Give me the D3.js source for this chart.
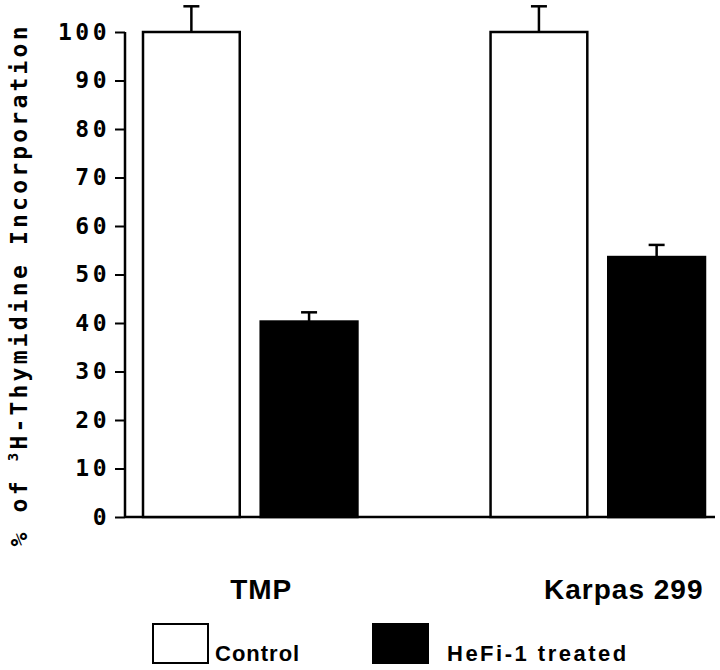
<!DOCTYPE html>
<html>
<head>
<meta charset="utf-8">
<script src="https://cdn.jsdelivr.net/npm/d3@7"></script>
<style>
  body { margin: 0; background: #fff; }
</style>
</head>
<body>
<div id="chart"></div>
<script>
// data
var groups = ["TMP", "Karpas 299"];
var series = ["Control", "HeFi-1 treated"];
var values = [[100, 40.3], [100, 53.6]];
var errors = [[5.3, 1.9], [5.3, 2.5]];
var yTicks = [0, 10, 20, 30, 40, 50, 60, 70, 80, 90, 100];
var fills = ["#fff", "#000"];

var svg = d3.select("#chart").append("svg")
    .attr("width", 720)
    .attr("height", 670)

// Scales
var y = d3.scaleLinear().domain([0, 100]).range([517, 32]);

var x0 = d3.scaleBand().domain(groups).range([143, 705]).paddingInner(0.383);
var x1 = d3.scaleBand().domain(series).range([0, x0.bandwidth()]).paddingInner(0.178);

// Axes
var yAxis = d3.axisLeft(y).tickValues(yTicks).tickSize(10).tickPadding(5);
var gy = svg.append("g").attr("class", "y axis")
    .attr("transform", "translate(125,0)")
    .call(yAxis);
gy.select(".domain").attr("stroke-width", 2.5).attr("d", "M0," + y(100) + "V" + y(0));
gy.selectAll(".tick line").attr("stroke-width", 2);
gy.selectAll("text")
    .attr("font-family", "'DejaVu Sans Mono', monospace")
    .attr("font-size", 23)
    .attr("font-weight", "bold")
    .attr("letter-spacing", 3.5)
    .attr("fill", "#000");

svg.append("line")
    .attr("x1", 125).attr("x2", 715)
    .attr("y1", y(0)).attr("y2", y(0))
    .attr("stroke", "#000").attr("stroke-width", 2.5);

// Y title
svg.append("text")
    .attr("transform", "translate(27," + ((y(100) + y(0)) / 2 + 12) + ") rotate(-90)")
    .attr("text-anchor", "middle")
    .attr("font-family", "'DejaVu Sans Mono', monospace")
    .attr("font-weight", "bold")
    .attr("font-size", 23)
    .attr("textLength", 520)
    .attr("lengthAdjust", "spacing")
    .html("% of <tspan font-size='14' dy='-9'>3</tspan><tspan dy='9'>H-Thymidine Incorporation</tspan>");

// Bars
var rows = [];
groups.forEach(function (g, i) {
    series.forEach(function (s, j) {
        rows.push({ group: g, series: s, value: values[i][j], err: errors[i][j], j: j });
    });
});

var bars = svg.selectAll("g.bar").data(rows).enter().append("g").attr("class", "bar");

bars.append("line")
    .attr("x1", d => x0(d.group) + x1(d.series) + x1.bandwidth() / 2)
    .attr("x2", d => x0(d.group) + x1(d.series) + x1.bandwidth() / 2)
    .attr("y1", d => y(d.value))
    .attr("y2", d => y(d.value + d.err))
    .attr("stroke", "#000").attr("stroke-width", 2.5);

bars.append("line")
    .attr("x1", d => x0(d.group) + x1(d.series) + x1.bandwidth() / 2 - 8)
    .attr("x2", d => x0(d.group) + x1(d.series) + x1.bandwidth() / 2 + 8)
    .attr("y1", d => y(d.value + d.err))
    .attr("y2", d => y(d.value + d.err))
    .attr("stroke", "#000").attr("stroke-width", 2.5);

bars.append("rect")
    .attr("x", d => x0(d.group) + x1(d.series))
    .attr("y", d => y(d.value))
    .attr("width", x1.bandwidth())
    .attr("height", d => y(0) - y(d.value))
    .attr("fill", d => fills[d.j])
    .attr("stroke", "#000")
    .attr("stroke-width", 2.5);

// Group labels (slightly right of the group centre, as in the original)
var labelShift = [11, 26];
svg.selectAll("text.group").data(groups).enter().append("text")
    .attr("class", "group")
    .attr("x", (d, i) => x0(d) + x0.bandwidth() / 2 + labelShift[i])
    .attr("y", 599)
    .attr("text-anchor", "middle")
    .attr("font-family", "'Liberation Sans', Arial, sans-serif")
    .attr("font-weight", "bold")
    .attr("font-size", 28)
    .attr("letter-spacing", 1)
    .text(d => d);

// Legend
var legX = [153, 373];
var leg = svg.selectAll("g.legend").data(series).enter().append("g").attr("class", "legend")
    .attr("transform", (d, i) => "translate(" + legX[i] + ",624)");

leg.append("rect")
    .attr("width", 55).attr("height", 39)
    .attr("fill", (d, i) => fills[i])
    .attr("stroke", "#000").attr("stroke-width", 2);

leg.append("text")
    .attr("x", (d, i) => i == 0 ? 62 : 74)
    .attr("y", 37)
    .attr("font-family", "'Liberation Sans', Arial, sans-serif")
    .attr("font-weight", "bold")
    .attr("font-size", 22)
    .attr("letter-spacing", (d, i) => i == 0 ? 1 : 2.5)
    .text(d => d);
</script>
</body>
</html>
